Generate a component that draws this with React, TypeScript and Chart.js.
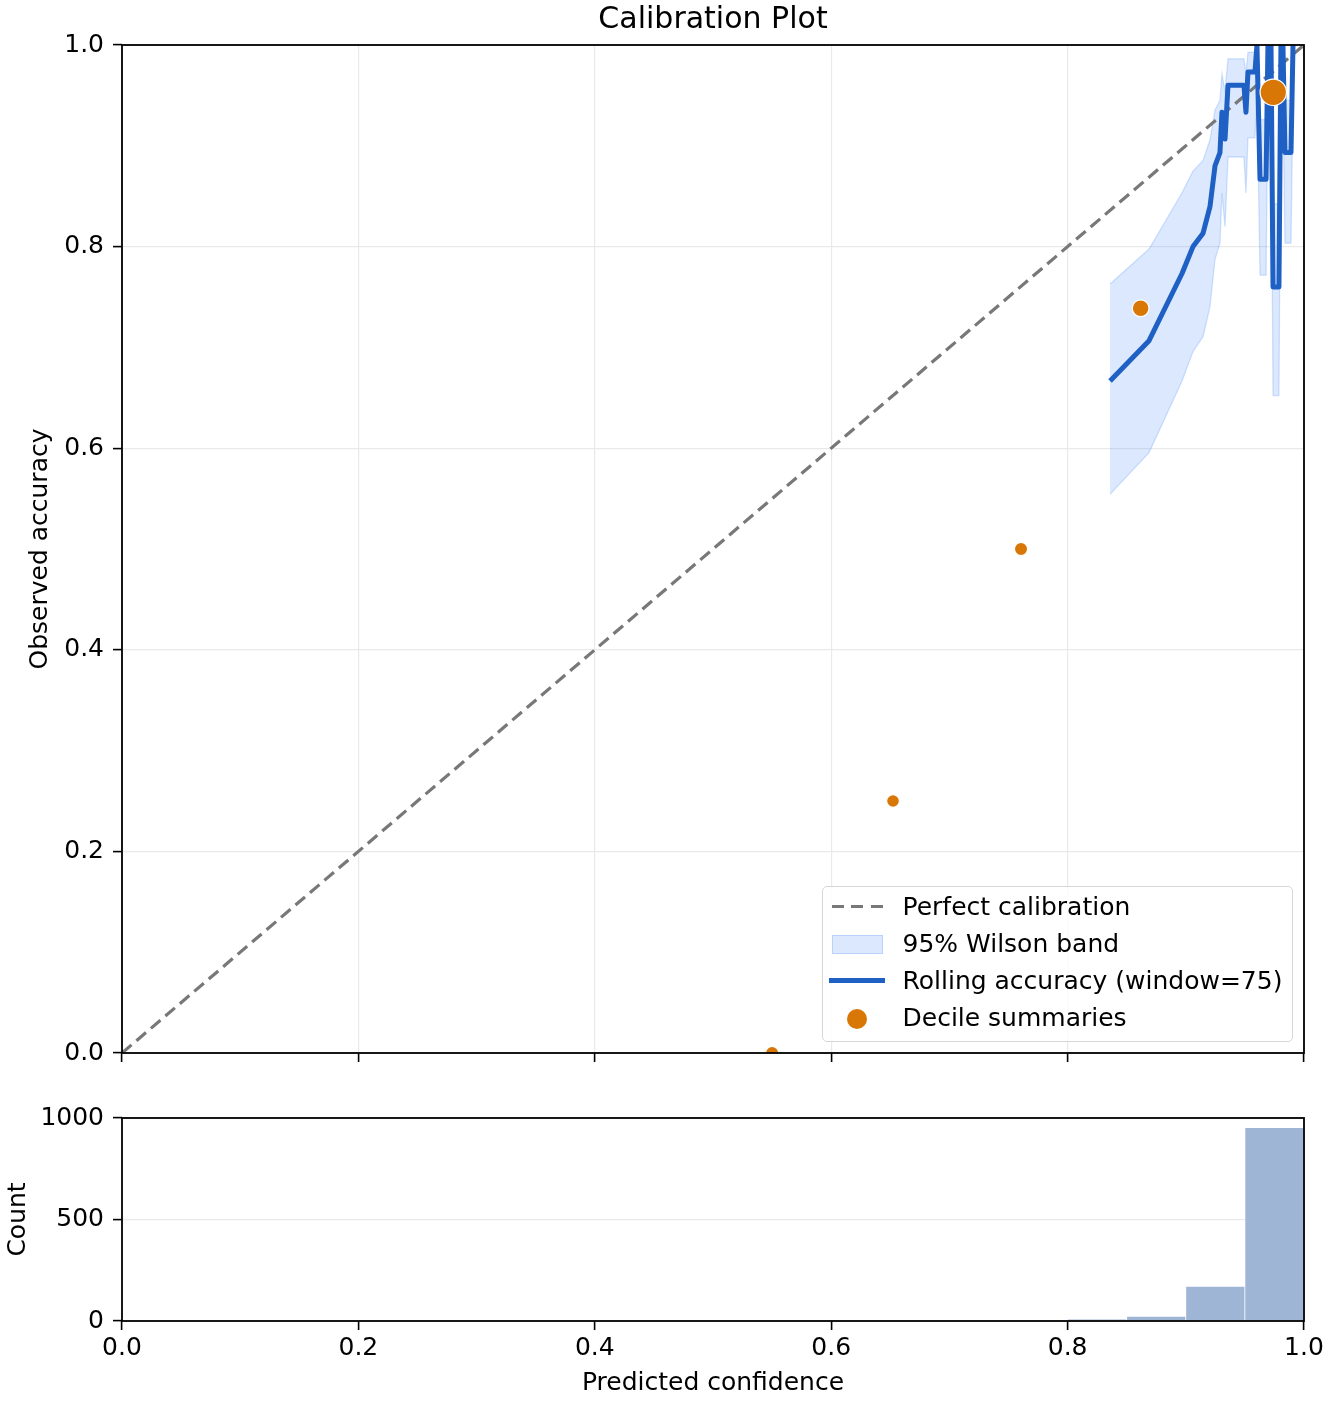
import React, { useEffect, useRef } from 'react';
import { Chart, registerables } from 'chart.js';

Chart.register(...registerables);

// rolling accuracy over a window of 75 predictions, ordered by mean confidence
const rollingConfidence = [
  0.8359, 0.8689, 0.8968, 0.9061, 0.9146, 0.9205, 0.9247, 0.9289, 0.9306, 0.9332,
  0.9357, 0.9492, 0.9509, 0.9526, 0.9585, 0.9602, 0.9628, 0.9679, 0.9695, 0.9721,
  0.9738, 0.9788, 0.9805, 0.9822, 0.9839, 0.989, 0.9907,
];
const rollingAccuracy = [
  0.6667, 0.7067, 0.7733, 0.8, 0.8133, 0.84, 0.88, 0.8933, 0.9333, 0.9067,
  0.96, 0.96, 0.9333, 0.9733, 0.9733, 1.0, 0.8667, 0.8667, 1.0, 1.0,
  0.76, 0.76, 1.0, 1.0, 0.8933, 0.8933, 1.0,
];
// 95% Wilson interval for each window
const wilsonUpper = [
  0.7629, 0.7976, 0.8534, 0.8749, 0.8854, 0.906, 0.9356, 0.945, 0.9712, 0.9541,
  0.9863, 0.9863, 0.9712, 0.9927, 0.9927, 1.0, 0.926, 0.926, 1.0, 1.0,
  0.8425, 0.8425, 1.0, 1.0, 0.945, 0.945, 1.0,
];
const wilsonLower = [
  0.5542, 0.5956, 0.6666, 0.6959, 0.7107, 0.7408, 0.7874, 0.8034, 0.8532, 0.8197,
  0.8889, 0.8889, 0.8532, 0.9079, 0.9079, 0.9513, 0.7717, 0.7717, 0.9513, 0.9513,
  0.6522, 0.6522, 0.9513, 0.9513, 0.8034, 0.8034, 0.9513,
];

const decileConfidence = [0.55, 0.6523, 0.7606, 0.8618, 0.974];
const decileAccuracy = [0.0, 0.25, 0.5, 0.7388, 0.9531];

const histBinCenters = [0.825, 0.875, 0.925, 0.975];
const histCounts = [8, 23, 171, 952];

const diagonal = [0, 1];
const confidenceTicks = [0, 0.2, 0.4, 0.6, 0.8, 1.0];
const accuracyTicks = [0, 0.2, 0.4, 0.6, 0.8, 1.0];
const countTicks = [0, 500, 1000];

const FONT = "'DejaVu Sans', sans-serif";
const BLUE = '#1f60c4';
const ORANGE = '#d97706';
const GRAY = '#787878';
const BAND_FILL = 'rgba(59,130,246,0.18)';
const BAND_EDGE = 'rgba(59,130,246,0.22)';
const HIST_FILL = '#9eb5d6';
const GRID = '#e9e9e9';
const DECILE_RADIUS = [6.6, 6.4, 6.6, 8.4, 13.2];

const LABEL_DIAGONAL = 'Perfect calibration';
const LABEL_BAND = '95% Wilson band';
const LABEL_ROLLING = 'Rolling accuracy (window=75)';
const LABEL_DECILES = 'Decile summaries';

const xy = (xs: number[], ys: number[]) => xs.map((x, i) => ({ x, y: ys[i] }));

const tickFont = { family: FONT, size: 25 };

// matplotlib-style spines on all four sides
const framePlugin = {
  id: 'frame',
  afterDraw(chart: Chart) {
    const { ctx, chartArea: a } = chart;
    ctx.save();
    ctx.strokeStyle = '#000';
    ctx.lineWidth = 1.8;
    ctx.strokeRect(a.left, a.top, a.right - a.left, a.bottom - a.top);
    ctx.restore();
  },
};

const gridOpts = { color: GRID, lineWidth: 1.2, tickColor: '#000', tickLength: 9, tickWidth: 1.6 };

const Legend: React.FC = () => {
  const rows = [LABEL_DIAGONAL, LABEL_BAND, LABEL_ROLLING, LABEL_DECILES];
  const centers = [19.5, 56.5, 93, 130];
  return (
    <div
      style={{
        position: 'absolute',
        left: 822,
        top: 886,
        width: 471,
        height: 156,
        boxSizing: 'border-box',
        border: '1.5px solid #d6d6d6',
        borderRadius: 5,
        background: 'rgba(255,255,255,0.8)',
      }}
    >
      <div style={{ position: 'absolute', left: 8.5, top: 18, width: 51, height: 3.3,
        background: `repeating-linear-gradient(90deg, ${GRAY} 0 12px, transparent 12px 19.5px)` }} />
      <div style={{ position: 'absolute', left: 8.5, top: 47.5, width: 51, height: 19, boxSizing: 'border-box',
        background: BAND_FILL, border: `1.3px solid ${BAND_EDGE}` }} />
      <div style={{ position: 'absolute', left: 6, top: 90.5, width: 56, height: 5, background: BLUE }} />
      <div style={{ position: 'absolute', left: 23.5, top: 121.5, width: 20, height: 20, borderRadius: '50%',
        background: ORANGE }} />
      {rows.map((label, i) => (
        <div
          key={label}
          style={{
            position: 'absolute',
            left: 79.5,
            top: centers[i] - 14.5,
            fontFamily: FONT,
            fontSize: 25,
            lineHeight: '30px',
            color: '#000',
            whiteSpace: 'nowrap',
          }}
        >
          {label}
        </div>
      ))}
    </div>
  );
};

const App: React.FC = () => {
  const mainRef = useRef<HTMLCanvasElement | null>(null);
  const histRef = useRef<HTMLCanvasElement | null>(null);

  useEffect(() => {
    if (!mainRef.current || !histRef.current) return;
    Chart.defaults.font.family = FONT;
    Chart.defaults.color = '#000';

    const main = new Chart(mainRef.current, {
      type: 'line',
      data: {
        datasets: [
          {
            label: LABEL_DECILES,
            data: xy(decileConfidence, decileAccuracy),
            showLine: false,
            pointRadius: DECILE_RADIUS,
            pointBackgroundColor: ORANGE,
            pointBorderColor: '#fff',
            pointBorderWidth: 1.2,
            clip: 0,
          },
          {
            label: LABEL_ROLLING,
            data: xy(rollingConfidence, rollingAccuracy),
            borderColor: BLUE,
            borderWidth: 5,
            borderJoinStyle: 'round',
            pointRadius: 0,
            clip: 0,
          },
          {
            label: LABEL_DIAGONAL,
            data: xy(diagonal, diagonal),
            borderColor: GRAY,
            borderWidth: 3.2,
            borderDash: [12.5, 6.5],
            pointRadius: 0,
            clip: 0,
          },
          {
            label: LABEL_BAND,
            data: xy(rollingConfidence, wilsonUpper),
            borderColor: BAND_EDGE,
            backgroundColor: BAND_FILL,
            borderWidth: 1.3,
            pointRadius: 0,
            fill: '+1',
            clip: 0,
          },
          {
            label: 'Wilson lower',
            data: xy(rollingConfidence, wilsonLower),
            borderColor: BAND_EDGE,
            borderWidth: 1.3,
            pointRadius: 0,
            fill: false,
            clip: 0,
          },
        ],
      },
      options: {
        responsive: false,
        animation: false,
        events: [],
        layout: { padding: { left: 0, right: 28, top: 0, bottom: 0 } },
        plugins: {
          legend: { display: false },
          tooltip: { enabled: false },
          title: {
            display: true,
            text: 'Calibration Plot',
            fullSize: false,
            color: '#000',
            font: { family: FONT, size: 30, weight: 'normal' },
            padding: { top: 2, bottom: 7 },
          },
        },
        scales: {
          x: {
            type: 'linear',
            min: 0,
            max: 1,
            afterBuildTicks: (s: any) => { s.ticks = confidenceTicks.map((value) => ({ value })); },
            afterFit: (s: any) => { s.height = 27; },
            ticks: { display: false },
            grid: gridOpts,
            border: { display: false },
          },
          y: {
            type: 'linear',
            min: 0,
            max: 1,
            afterBuildTicks: (s: any) => { s.ticks = accuracyTicks.map((value) => ({ value })); },
            afterFit: (s: any) => { s.width = 122; },
            ticks: { font: tickFont, color: '#000', padding: 9, callback: (v: any) => Number(v).toFixed(1) },
            grid: gridOpts,
            border: { display: false },
            title: {
              display: true,
              text: 'Observed accuracy',
              color: '#000',
              font: tickFont,
              padding: { top: 25, bottom: 0 },
            },
          },
        },
      },
      plugins: [framePlugin],
    } as any);

    const hist = new Chart(histRef.current, {
      type: 'bar',
      data: {
        datasets: [
          {
            label: 'Count',
            data: xy(histBinCenters, histCounts),
            backgroundColor: HIST_FILL,
            borderColor: '#fff',
            borderWidth: 0.7,
            barPercentage: 1,
            categoryPercentage: 1,
            clip: 0,
          },
        ],
      },
      options: {
        responsive: false,
        animation: false,
        events: [],
        layout: { padding: { left: 0, right: 28, top: 38, bottom: 0 } },
        plugins: { legend: { display: false }, tooltip: { enabled: false } },
        scales: {
          x: {
            type: 'linear',
            min: 0,
            max: 1,
            offset: false,
            afterBuildTicks: (s: any) => { s.ticks = confidenceTicks.map((value) => ({ value })); },
            afterFit: (s: any) => { s.height = 83; },
            ticks: {
              font: tickFont,
              color: '#000',
              padding: 3,
              maxRotation: 0,
              autoSkip: false,
              callback: (v: any) => Number(v).toFixed(1),
            },
            grid: { ...gridOpts, drawOnChartArea: false, offset: false },
            border: { display: false },
            title: {
              display: true,
              text: 'Predicted confidence',
              color: '#000',
              font: tickFont,
              padding: { top: 0, bottom: 6 },
            },
          },
          y: {
            type: 'linear',
            min: 0,
            max: 1000,
            afterBuildTicks: (s: any) => { s.ticks = countTicks.map((value) => ({ value })); },
            afterFit: (s: any) => { s.width = 122; },
            ticks: { font: tickFont, color: '#000', padding: 9, callback: (v: any) => String(v) },
            grid: gridOpts,
            border: { display: false },
            title: {
              display: true,
              text: 'Count',
              color: '#000',
              font: tickFont,
              padding: { top: 3, bottom: 0 },
            },
          },
        },
      },
      plugins: [framePlugin],
    } as any);

    return () => {
      main.destroy();
      hist.destroy();
    };
  }, []);

  return (
    <div style={{ position: 'absolute', left: 0, top: 0, width: 1332, height: 1404, background: '#fff' }}>
      <canvas ref={mainRef} width={1332} height={1080}
        style={{ position: 'absolute', left: 0, top: 0, width: 1332, height: 1080 }} />
      <canvas ref={histRef} width={1332} height={324}
        style={{ position: 'absolute', left: 0, top: 1080, width: 1332, height: 324 }} />
      <Legend />
    </div>
  );
};

export default App;
